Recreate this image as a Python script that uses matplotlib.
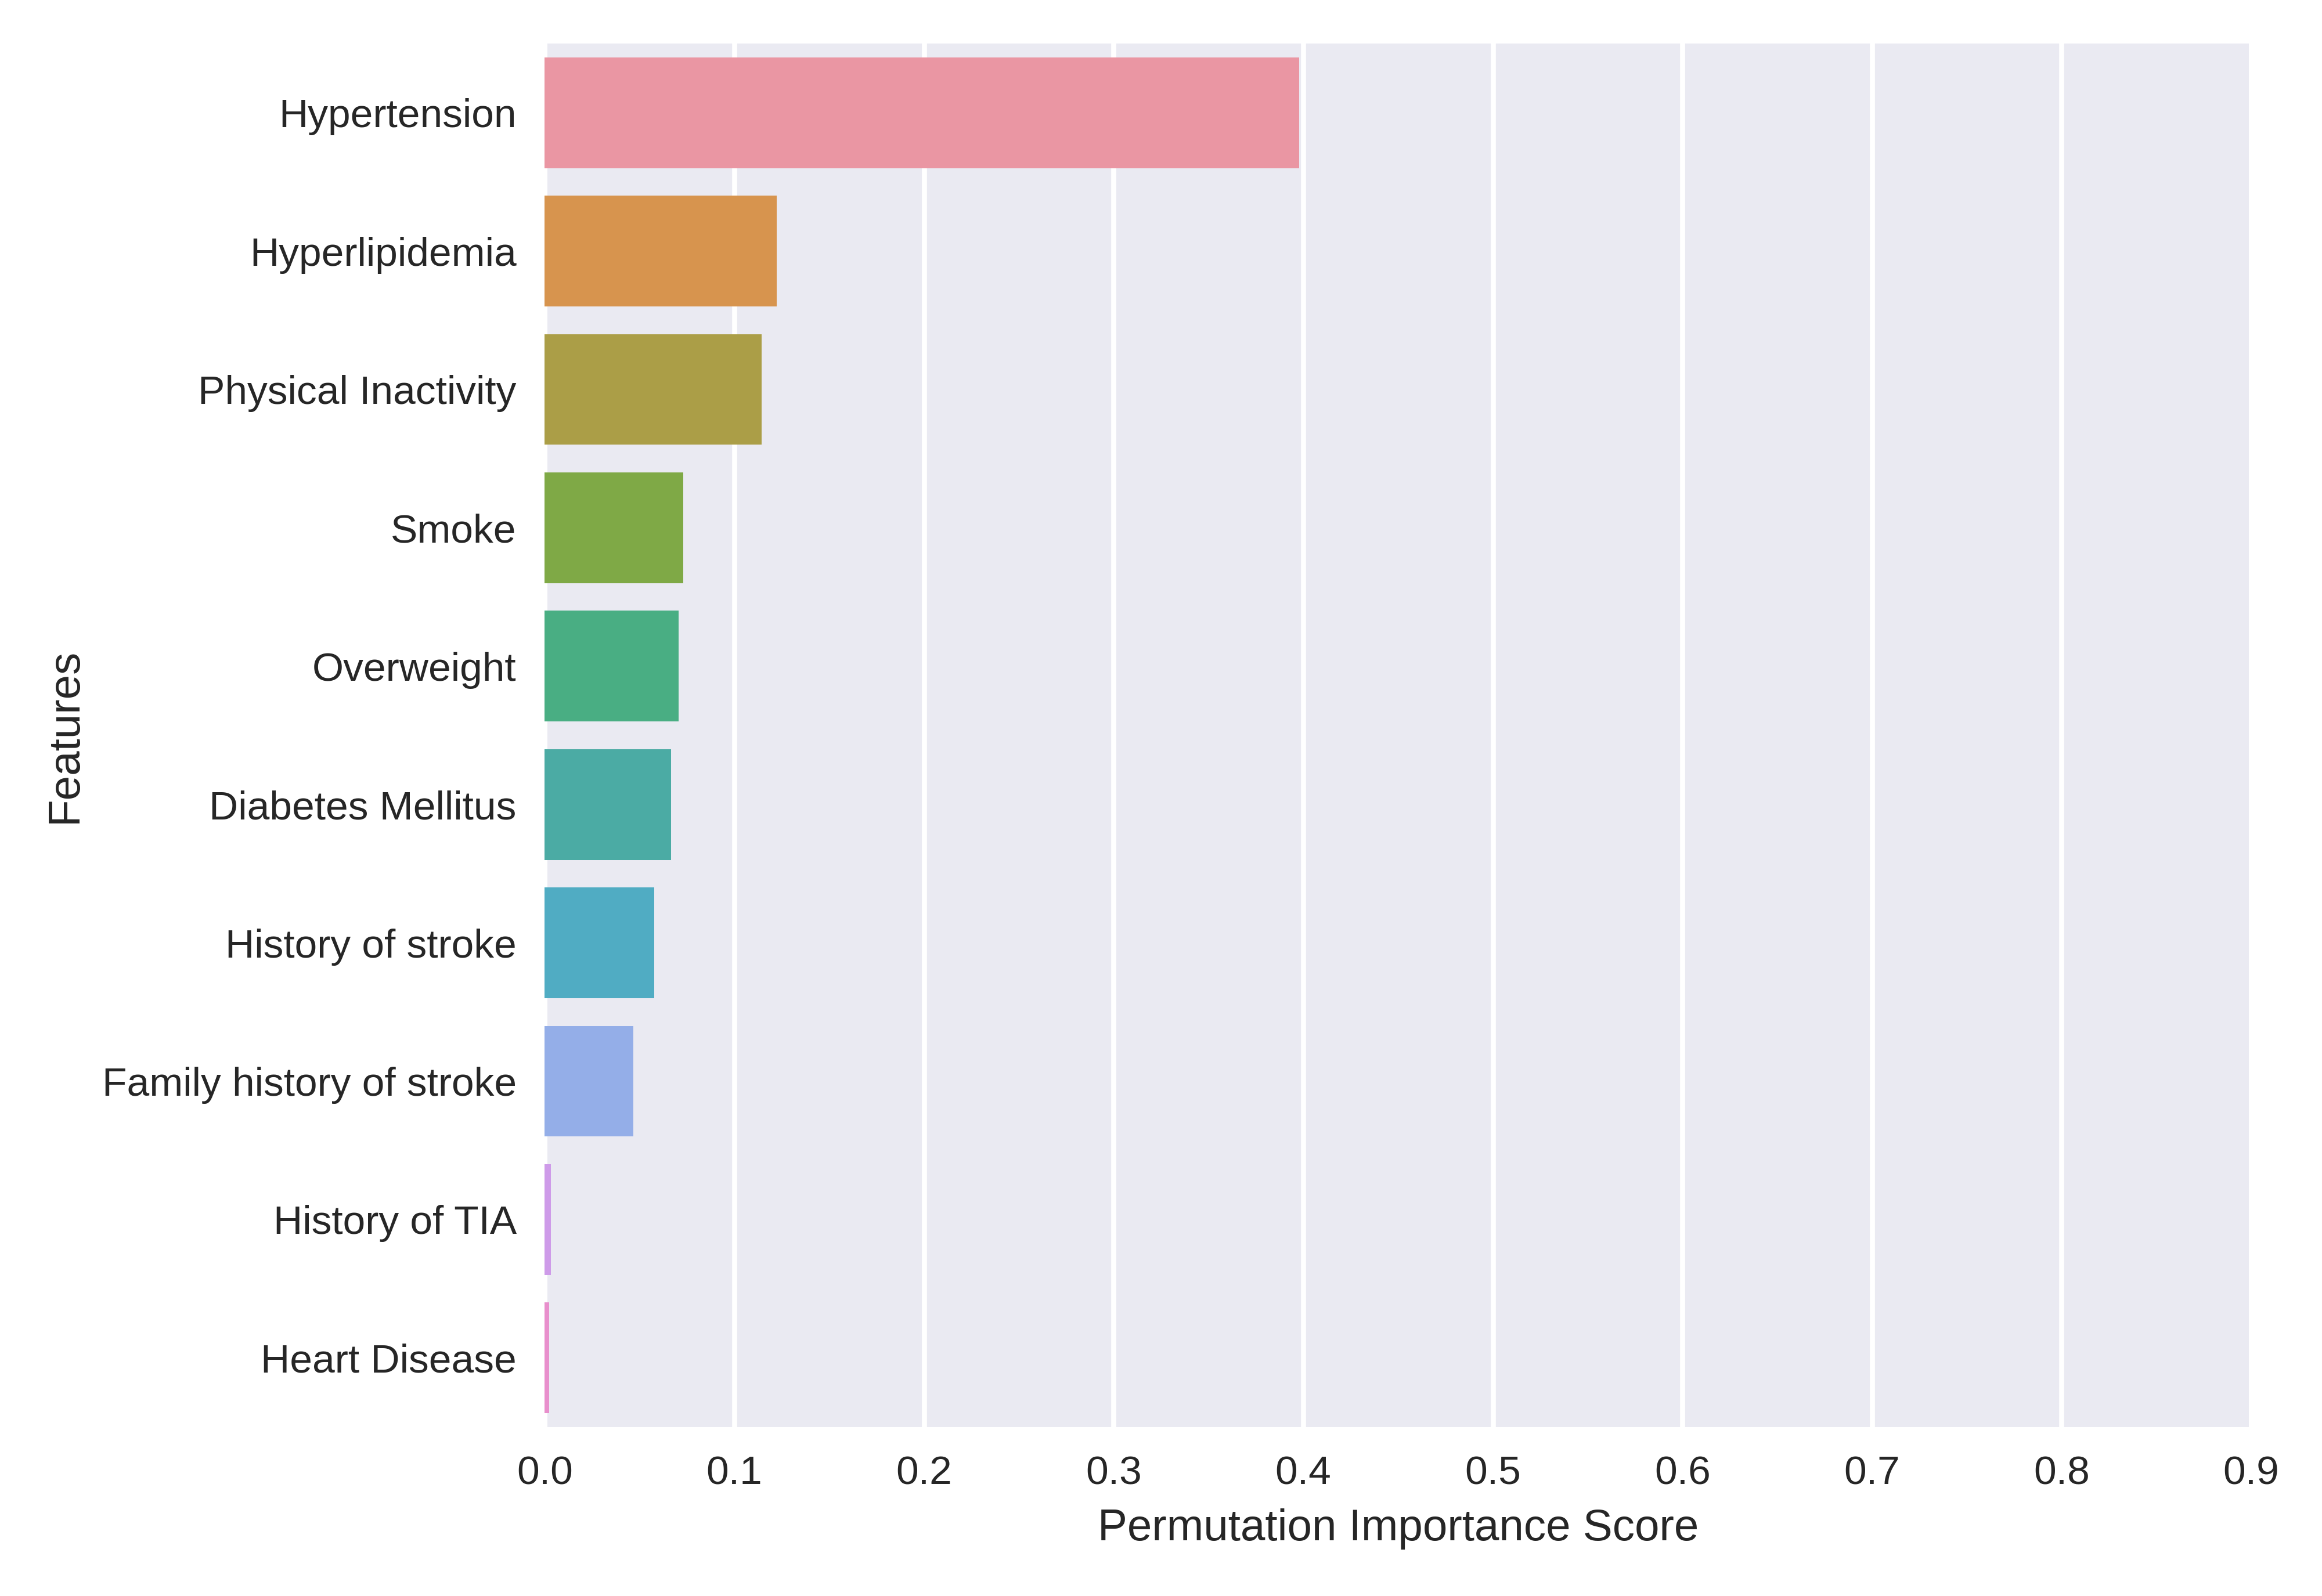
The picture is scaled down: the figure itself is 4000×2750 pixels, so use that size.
import matplotlib
matplotlib.use("Agg")
import matplotlib.pyplot as plt
import seaborn as sns

# feature importances
features = ["Hypertension", "Hyperlipidemia", "Physical Inactivity", "Smoke",
            "Overweight", "Diabetes Mellitus", "History of stroke",
            "Family history of stroke", "History of TIA", "Heart Disease"]
scores = [0.3978, 0.1223, 0.1143, 0.0730, 0.0706, 0.0666, 0.0577,
          0.0467, 0.0032, 0.0023]
x_ticks = [0.0, 0.1, 0.2, 0.3, 0.4, 0.5, 0.6, 0.7, 0.8, 0.9]

sns.set_theme(style="darkgrid")
plt.rcParams['font.family'] = ['Liberation Sans', 'DejaVu Sans']

# lighter husl palette, desaturated the way seaborn barplot does it
colores = [sns.desaturate(c, 0.75) for c in sns.husl_palette(len(features), l=0.70)]

fig = plt.figure(figsize=(8, 5.5), dpi=500)
ax = fig.add_axes([0.2346, 0.10582, 0.7349, 0.86691])

posicoes = list(range(len(features)))
ax.barh(posicoes, scores, height=0.8, color=colores,
        linewidth=0, edgecolor='none', zorder=3)

ax.set_ylim(len(features) - 0.5, -0.5)
ax.set_xlim(0, 0.9)
ax.set_xticks(x_ticks)
ax.set_xticklabels([f"{t:.1f}" for t in x_ticks])
ax.set_yticks(posicoes)
ax.set_yticklabels(features)
ax.grid(axis='y', visible=False)
ax.grid(axis='x', color='white', linewidth=1.25)
ax.set_axisbelow(True)

ax.tick_params(axis='both', labelsize=10, colors='#262626', pad=7, length=0)
ax.set_xlabel("Permutation Importance Score", fontsize=11, color='#262626')
ax.set_ylabel("Features", fontsize=11, color='#262626')

for lado in ['top', 'bottom']:
    ax.spines[lado].set_visible(False)
for lado in ['left', 'right']:
    ax.spines[lado].set_color('white')
    ax.spines[lado].set_linewidth(1.25)

fig.savefig("out.png", dpi=500)
